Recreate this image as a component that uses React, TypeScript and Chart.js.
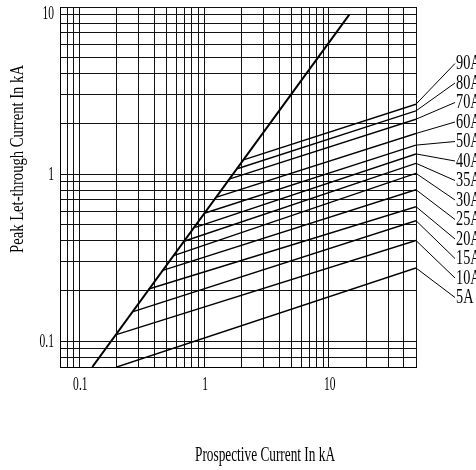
import React, { useEffect, useRef } from 'react';
import { Chart, registerables } from 'chart.js';

Chart.register(...registerables);

// Fuse ratings (bottom to top) and their let-through lines (log-log straight segments)
const fuseRatings = ['5A', '10A', '15A', '20A', '25A', '30A', '35A', '40A', '50A', '60A', '70A', '80A', '90A'];
const fuseStartCurrent = [0.2, 0.195, 0.27, 0.36, 0.46, 0.57, 0.69, 0.85, 1.02, 1.26, 1.61, 1.87, 2.1];
const fuseStartPeak = [0.07, 0.109, 0.15, 0.205, 0.264, 0.325, 0.396, 0.48, 0.585, 0.728, 0.935, 1.08, 1.22];
const fuseEndCurrent = [50, 50, 50, 50, 50, 50, 50, 50, 50, 50, 50, 50, 50];
const fuseEndPeak = [0.274, 0.4, 0.526, 0.638, 0.806, 1.01, 1.16, 1.32, 1.49, 1.75, 2.13, 2.39, 2.62];

// Unlimited peak current line
const cutoffCurrent = [0.127, 14.6];
const cutoffPeak = [0.07, 9.0];

// Grid values
const xGridValues = [0.07, 0.08, 0.09, 0.1, 0.2, 0.3, 0.4, 0.5, 0.6, 0.7, 0.8, 0.9, 1, 2, 3, 4, 5, 6, 7, 8, 9, 10, 20, 30, 40, 50];
const yGridValues = [0.07, 0.08, 0.09, 0.1, 0.2, 0.3, 0.4, 0.5, 0.6, 0.7, 0.8, 0.9, 1, 2, 3, 4, 5, 6, 7, 8, 9, 10];

// Tick labels
const xTickValues = [0.1, 1, 10];
const xTickLabels = ['0.1', '1', '10'];
const yTickValues = [0.1, 1, 10];
const yTickLabels = ['0.1', '1', '10'];

const xTitle = 'Prospective Current In kA';
const yTitle = 'Peak Let-through Current In kA';

const FONT = '"Liberation Serif", "Times New Roman", serif';

function drawCondensed(
  ctx: CanvasRenderingContext2D,
  text: string,
  x: number,
  y: number,
  size: number,
  align: CanvasTextAlign,
  baseline: CanvasTextBaseline,
  sx: number,
  rotate = 0
) {
  ctx.save();
  ctx.translate(x, y);
  if (rotate) ctx.rotate(rotate);
  ctx.scale(sx, 1);
  ctx.font = `${size}px ${FONT}`;
  ctx.textAlign = align;
  ctx.textBaseline = baseline;
  ctx.fillStyle = '#000';
  ctx.fillText(text, 0, 0);
  ctx.restore();
}

function fitScale(ctx: CanvasRenderingContext2D, text: string, size: number, width: number) {
  ctx.save();
  ctx.font = `${size}px ${FONT}`;
  const w = ctx.measureText(text).width;
  ctx.restore();
  return width / w;
}

const overlayPlugin = {
  id: 'overlay',
  afterDraw(chart: any) {
    const ctx: CanvasRenderingContext2D = chart.ctx;
    const xs = chart.scales.x;
    const ys = chart.scales.y;
    const area = chart.chartArea;

    // y tick labels
    yTickValues.forEach((v, i) => {
      let py = ys.getPixelForValue(v);
      py = Math.max(py, area.top + 6);
      drawCondensed(ctx, yTickLabels[i], area.left - 6, py + 1, 18, 'right', 'middle', 0.64);
    });
    // x tick labels
    xTickValues.forEach((v, i) => {
      const px = xs.getPixelForValue(v);
      drawCondensed(ctx, xTickLabels[i], px + 1, area.bottom + 18, 18, 'center', 'middle', 0.64);
    });

    // axis titles
    const sxX = fitScale(ctx, xTitle, 21, 140);
    drawCondensed(ctx, xTitle, 265, 461, 21, 'center', 'alphabetic', sxX);
    const sxY = fitScale(ctx, yTitle, 19, 188);
    drawCondensed(ctx, yTitle, 23, 159, 19, 'center', 'alphabetic', sxY, -Math.PI / 2);

    // rating labels with leader lines
    const n = fuseRatings.length;
    for (let i = 0; i < n; i++) {
      const rank = n - 1 - i; // 0 for top label (90A)
      const ly = 62.5 + rank * 19.5;
      const ex = xs.getPixelForValue(fuseEndCurrent[i]);
      const ey = ys.getPixelForValue(fuseEndPeak[i]);
      ctx.save();
      ctx.strokeStyle = '#000';
      ctx.lineWidth = 1;
      ctx.beginPath();
      ctx.moveTo(ex, ey);
      ctx.lineTo(455, ly + 1);
      ctx.stroke();
      ctx.restore();
      drawCondensed(ctx, fuseRatings[i], 456, ly + 1, 21, 'left', 'middle', 0.68);
    }
  },
};

export default function App() {
  const canvasRef = useRef<HTMLCanvasElement | null>(null);

  useEffect(() => {
    if (!canvasRef.current) return;
    const datasets: any[] = [
      {
        label: 'cutoff',
        data: cutoffCurrent.map((x, i) => ({ x, y: cutoffPeak[i] })),
        borderColor: '#000',
        borderWidth: 2,
        pointRadius: 0,
        fill: false,
      },
      ...fuseRatings.map((r, i) => ({
        label: r,
        data: [
          { x: fuseStartCurrent[i], y: fuseStartPeak[i] },
          { x: fuseEndCurrent[i], y: fuseEndPeak[i] },
        ],
        borderColor: '#000',
        borderWidth: 1.4,
        pointRadius: 0,
        fill: false,
      })),
    ];

    const chart = new Chart(canvasRef.current, {
      type: 'line',
      data: { datasets },
      options: {
        animation: false,
        responsive: true,
        maintainAspectRatio: false,
        devicePixelRatio: 1,
        layout: { padding: { left: 60, right: 60, top: 7, bottom: 103 } },
        plugins: { legend: { display: false }, tooltip: { enabled: false } },
        scales: {
          x: {
            type: 'logarithmic',
            min: 0.07,
            max: 50,
            afterBuildTicks: (s: any) => {
              s.ticks = xGridValues.map((v) => ({ value: v }));
            },
            ticks: { display: false, autoSkip: false },
            grid: { color: '#111', lineWidth: 1, drawTicks: false },
            border: { color: '#000', width: 1 },
          },
          y: {
            type: 'logarithmic',
            min: 0.07,
            max: 10,
            afterBuildTicks: (s: any) => {
              s.ticks = yGridValues.map((v) => ({ value: v }));
            },
            ticks: { display: false, autoSkip: false },
            grid: { color: '#111', lineWidth: 1, drawTicks: false },
            border: { color: '#000', width: 1 },
          },
        },
      } as any,
      plugins: [overlayPlugin],
    });
    return () => chart.destroy();
  }, []);

  return (
    <div style={{ position: 'absolute', left: 0, top: 0, width: 476, height: 470, background: '#fff' }}>
      <canvas ref={canvasRef} />
    </div>
  );
}
